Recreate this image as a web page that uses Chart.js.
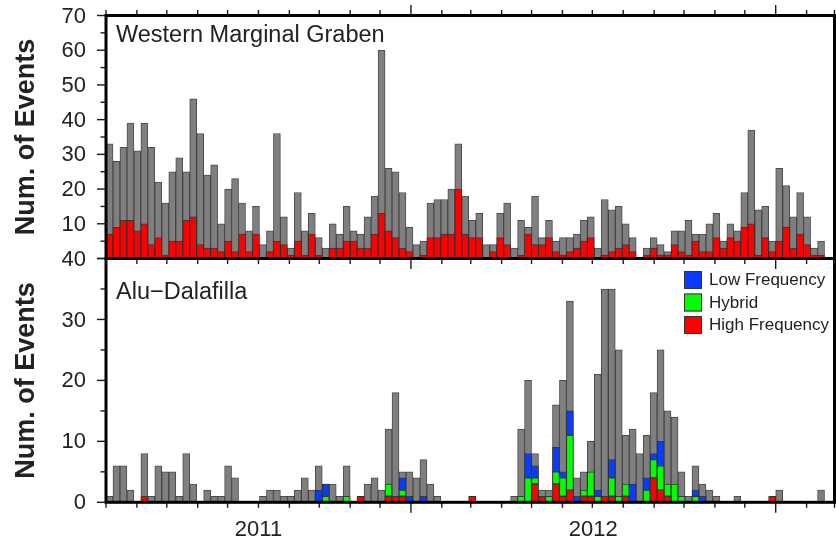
<!DOCTYPE html>
<html><head><meta charset="utf-8">
<script src="https://cdn.jsdelivr.net/npm/chart.js@4.4.1/dist/chart.umd.min.js"></script>
<style>
html,body{margin:0;padding:0;background:#fff;}
#wrap{position:relative;width:836px;height:544px;background:#fff;}
canvas{position:absolute;left:0;top:0;}
</style></head><body>
<div id="wrap"><canvas id="cBottom" width="836" height="544"></canvas><canvas id="cTop" width="836" height="544"></canvas></div>
<script>
// ---- x axis: days after 1 March 2011, one bar per week ----
const monthTickDays = [0,31,61,92,122,153,184,214,245,275,306,337,366,397,427,458,488,519,550,580,611,641,672,703,731];
const yearTickDays = [306, 672];
const yearLabels = ['2011', '2012'];
const yearLabelDays = [153, 489];

// ---- Western Marginal Graben (weekly counts) ----
const wmgTotal = [33,28,32,39,31,39,32,22,16,25, 29,25,46,36,24,27,10,20,23,16, 8,15,4,8,36,12,3,19,8,13,
  6,3,10,7,15,8,7,12,18,60, 26,25,19,9,4,5,16,17,17,20, 33,18,11,13,4,4,13,16,3,11,
  9,18,6,11,5,6,6,7,11,12, 3,17,14,15,10,6,0,3,6,4, 2,8,8,11,7,7,10,13,5,10,
  8,19,37,14,15,5,26,21,12,19, 12,3,5];
const wmgHigh = [7,9,11,11,8,10,4,6,1,5, 5,11,12,4,3,3,2,5,2,7, 2,7,0,2,5,4,1,5,1,7,
  1,0,3,3,5,5,3,3,7,13, 8,6,3,2,0,1,6,6,7,7, 20,7,6,6,0,2,6,4,0,1,
  7,4,4,6,2,1,2,3,5,6, 0,1,2,3,4,2,0,1,3,1, 1,4,2,1,5,2,2,6,3,6,
  5,9,10,1,6,2,5,9,3,7, 4,1,1];

// ---- Alu-Dalafilla (weekly counts) ----
const aduTotal = [1,6,6,2,0,8,1,6,5,5, 1,8,3,0,2,1,1,6,4,0, 0,0,1,2,2,1,1,2,4,2,
  6,3,3,1,6,0,1,3,4,2, 12,18,5,5,4,7,3,1,0,0, 0,0,1,0,0,0,0,0,1,12,
  20,8,2,2,16,20,33,4,5,10, 21,35,35,25,11,12,8,11,18,25, 15,14,5,1,6,3,2,1,0,0,
  1,0,0,0,0,1,2,0,0,0, 0,0,2];
const aduHigh = [0,0,0,0,0,1,0,0,0,0, 0,0,0,0,0,0,0,0,0,0, 0,0,0,0,0,0,0,0,0,0,
  0,0,0,0,0,0,1,0,0,0, 1,1,1,0,0,0,0,0,0,0, 0,0,1,0,0,0,0,0,0,0,
  0,3,1,0,3,1,2,0,1,1, 0,1,1,0,1,0,0,0,4,2, 1,0,0,0,0,0,0,0,0,0,
  0,0,0,0,0,1,0,0,0,0, 0,0,0];
const aduHybrid = [0,0,0,0,0,0,0,0,0,0, 0,0,0,0,0,0,0,0,0,0, 0,0,0,0,0,0,0,0,0,0,
  0,1,0,0,1,0,0,0,0,0, 2,0,1,0,0,0,0,0,0,0, 0,0,0,0,0,0,0,0,0,1,
  4,1,0,1,2,3,9,0,1,4, 1,0,3,1,2,0,0,2,3,4, 2,3,1,0,1,0,0,0,0,0,
  0,0,0,0,0,0,0,0,0,0, 0,0,0];
const aduLow = [0,0,0,0,0,0,0,0,0,0, 0,0,0,0,0,0,0,0,0,0, 0,0,0,0,0,0,0,0,0,0,
  2,2,0,0,0,0,0,0,0,0, 0,0,2,1,0,1,0,0,0,0, 0,0,0,0,0,0,0,0,0,0,
  4,2,0,0,4,1,4,1,0,0, 1,0,3,0,0,3,0,2,1,4, 0,0,0,0,1,1,0,0,0,0,
  0,0,0,0,0,0,0,0,0,0, 0,0,0];

const panelTitles = ['Western Marginal Graben', 'Alu\u2212Dalafilla'];
const yTitle = 'Num. of Events';

// ---- styles ----
const FONT = "'Liberation Sans', Arial, Helvetica, sans-serif";
const TXT = '#222';
const GRAY = '#7f7f7f', RED = '#ff0000', GREEN = '#00ff00', BLUE = '#0a3cff';
const EDGE = 'rgba(45,45,45,0.85)';

const weekCenter = wmgTotal.map((_, i) => i * 7 + 3.5);
const pts = arr => arr.map((v, i) => ({x: weekCenter[i], y: v}));

const framePlugin = {
  id: 'frame',
  afterDraw(chart, args, o) {
    const {ctx, chartArea: a} = chart;
    const x = chart.scales.x, y = chart.scales.y;
    ctx.save();
    ctx.strokeStyle = '#1a1a1a';
    ctx.lineWidth = 1.4;
    const seg = (x1, y1, x2, y2) => { ctx.beginPath(); ctx.moveTo(x1, y1); ctx.lineTo(x2, y2); ctx.stroke(); };
    (o.xTickEdges || []).forEach(edge => {
      const yPos = edge === 'top' ? a.top : a.bottom;
      const dir = edge === 'top' ? -1 : 1;
      monthTickDays.forEach(d => {
        const px = x.getPixelForValue(d);
        const len = yearTickDays.includes(d) ? 10.5 : 5.5;
        seg(px, yPos, px, yPos + dir * len);
      });
    });
    for (let v = y.min; v <= y.max; v += 5) {
      const py = y.getPixelForValue(v);
      seg(a.left, py, a.left - (v % 10 === 0 ? 9 : 5.5), py);
    }
    ctx.lineWidth = 3;
    ctx.strokeStyle = '#000';
    ctx.strokeRect(a.left, a.top, a.right - a.left, a.bottom - a.top);
    ctx.fillStyle = TXT;
    ctx.font = '23.5px ' + FONT;
    ctx.textBaseline = 'alphabetic';
    ctx.textAlign = 'left';
    ctx.fillText(o.title, a.left + 10, a.top + o.titleDy);
    if (o.legend) {
      const items = chart.data.datasets.filter(d => d.inLegend).sort((p, q) => p.legendRank - q.legendRank);
      ctx.font = '17px ' + FONT;
      ctx.textBaseline = 'middle';
      items.forEach((d, i) => {
        const bx = 684, by = 271 + i * 22.5;
        ctx.fillStyle = d.backgroundColor;
        ctx.fillRect(bx, by, 18, 18);
        ctx.lineWidth = 1;
        ctx.strokeStyle = '#333';
        ctx.strokeRect(bx + 0.5, by + 0.5, 17, 17);
        ctx.fillStyle = TXT;
        ctx.fillText(d.label, 709, by + 9.5);
      });
    }
    ctx.restore();
  }
};

const barBase = {borderColor: EDGE, borderWidth: 1, borderSkipped: false, grouped: false,
  barPercentage: 1, categoryPercentage: 1};

function xScale(show) {
  const s = {
    type: 'linear', min: 0, max: 731, offset: false, display: show,
    grid: {display: false, drawTicks: false, offset: false}, border: {display: false},
    afterBuildTicks: sc => { sc.ticks = yearLabelDays.map(v => ({value: v})); },
    ticks: {autoSkip: false, maxRotation: 0, padding: 14, color: TXT, font: {family: FONT, size: 22},
      callback: v => yearLabels[yearLabelDays.indexOf(v)] || ''}
  };
  if (show) s.afterFit = sc => { sc.height = 544 - 502.3; sc.paddingLeft = 0; sc.paddingRight = 0; };
  return s;
}
function yScale(max, hideZero) {
  return {
    min: 0, max: max,
    grid: {display: false, drawTicks: false}, border: {display: false},
    afterFit: s => { s.width = 106; s.paddingTop = 0; s.paddingBottom = 0; },
    ticks: {stepSize: 10, autoSkip: false, padding: 20, labelOffset: 1, color: TXT, font: {family: FONT, size: 22},
      callback: v => (hideZero && v === 0) ? '' : v},
    title: {display: true, text: yTitle, color: TXT, font: {family: FONT, size: 27, weight: 'bold'},
      padding: {top: 10, bottom: 0}}
  };
}

new Chart(document.getElementById('cBottom'), {
  type: 'bar',
  data: {datasets: [
    Object.assign({label: 'All events', data: pts(aduTotal), backgroundColor: GRAY, order: 2, stack: 'all'}, barBase),
    Object.assign({label: 'High Frequency', data: pts(aduHigh), backgroundColor: RED, order: 1, stack: 'parts', inLegend: true, legendRank: 3}, barBase),
    Object.assign({label: 'Hybrid', data: pts(aduHybrid), backgroundColor: GREEN, order: 1, stack: 'parts', inLegend: true, legendRank: 2}, barBase),
    Object.assign({label: 'Low Frequency', data: pts(aduLow), backgroundColor: BLUE, order: 1, stack: 'parts', inLegend: true, legendRank: 1}, barBase)
  ]},
  options: {
    responsive: false, animation: false, events: [],
    layout: {padding: {left: 0, right: 1.5, top: 258.5, bottom: 0}},
    plugins: {legend: {display: false}, tooltip: {enabled: false},
      frame: {title: panelTitles[1], titleDy: 40, xTickEdges: ['bottom'], legend: true}},
    scales: {x: Object.assign(xScale(true), {stacked: true}), y: Object.assign(yScale(40, false), {stacked: true})}
  },
  plugins: [framePlugin]
});

new Chart(document.getElementById('cTop'), {
  type: 'bar',
  data: {datasets: [
    Object.assign({label: 'All events', data: pts(wmgTotal), backgroundColor: GRAY, order: 2}, barBase),
    Object.assign({label: 'High Frequency', data: pts(wmgHigh), backgroundColor: RED, order: 1}, barBase)
  ]},
  options: {
    responsive: false, animation: false, events: [],
    layout: {padding: {left: 0, right: 1.5, top: 15.5, bottom: 544 - 258.5}},
    plugins: {legend: {display: false}, tooltip: {enabled: false},
      frame: {title: panelTitles[0], titleDy: 26, xTickEdges: ['top', 'bottom'], legend: false}},
    scales: {x: xScale(false), y: yScale(70, true)}
  },
  plugins: [framePlugin]
});
</script></body></html>
